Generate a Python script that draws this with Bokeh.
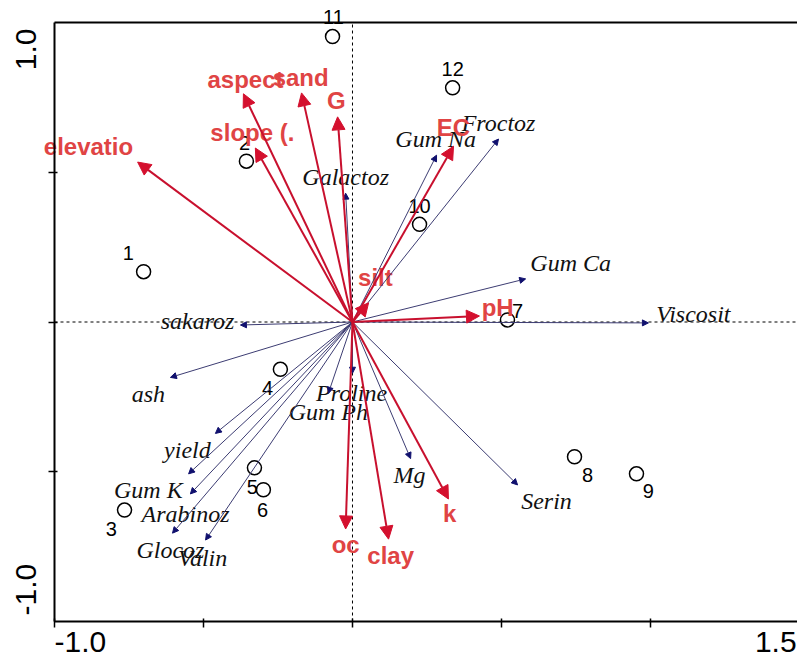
import math
from bokeh.plotting import figure
from bokeh.models import ColumnDataSource, Arrow, NormalHead, LinearAxis, FixedTicker
from bokeh.core.properties import value
from bokeh.embed import file_html
from bokeh.resources import INLINE

# ---------------- data ----------------
# environmental variables (red arrows)
env_names = ["elevatio", "aspect", "sand", "G", "slope (.", "EC", "silt", "pH", "oc", "clay", "k"]
env_x = [-0.721, -0.366, -0.171, -0.050, -0.326, 0.339, 0.054, 0.426, -0.023, 0.121, 0.322]
env_y = [0.534, 0.762, 0.765, 0.685, 0.581, 0.587, 0.064, 0.020, -0.691, -0.725, -0.591]
env_lx = [-0.886, -0.359, -0.174, -0.054, -0.336, 0.339, 0.077, 0.487, -0.023, 0.128, 0.326]
env_ly = [0.587, 0.809, 0.815, 0.738, 0.634, 0.651, 0.148, 0.047, -0.742, -0.779, -0.641]

# species / compounds (blue arrows)
sp_names = ["Galactoz", "Gum Na", "Froctoz", "Gum Ca", "Viscosit", "sakaroz", "ash", "yield",
            "Gum K", "Arabinoz", "Glocoz", "Valin", "Proline", "Gum Ph", "Mg", "Serin"]
sp_x = [-0.023, 0.282, 0.490, 0.581, 0.993, -0.376, -0.611, -0.460,
        -0.550, -0.544, -0.604, -0.493, 0.000, -0.081, 0.195, 0.554]
sp_y = [0.430, 0.557, 0.611, 0.144, -0.003, -0.010, -0.185, -0.372,
        -0.507, -0.574, -0.705, -0.728, -0.171, -0.238, -0.456, -0.544]
sp_lx = [-0.023, 0.279, 0.490, 0.732, 1.144, -0.520, -0.685, -0.554,
         -0.685, -0.560, -0.611, -0.503, -0.003, -0.081, 0.191, 0.651]
sp_ly = [0.483, 0.611, 0.664, 0.198, 0.027, 0.003, -0.242, -0.426,
         -0.560, -0.641, -0.762, -0.789, -0.238, -0.299, -0.510, -0.597]

# samples
smp_names = ["1", "2", "3", "4", "5", "6", "7", "8", "9", "10", "11", "12"]
smp_x = [-0.701, -0.356, -0.765, -0.242, -0.329, -0.299, 0.520, 0.745, 0.953, 0.225, -0.067, 0.336]
smp_y = [0.168, 0.537, -0.628, -0.158, -0.487, -0.560, 0.007, -0.450, -0.507, 0.326, 0.953, 0.782]
smp_lx = [-0.752, -0.362, -0.809, -0.285, -0.336, -0.302, 0.554, 0.789, 0.993, 0.225, -0.064, 0.336]
smp_ly = [0.232, 0.597, -0.691, -0.221, -0.550, -0.628, 0.037, -0.510, -0.564, 0.386, 1.017, 0.846]

x_ticks = [-1.0, -0.5, 0.0, 0.5, 1.0]
y_ticks = [-0.5, 0.0, 0.5]
axis_x_min, axis_x_max = -1.0, 1.5
axis_y_min, axis_y_max = -1.0, 1.0
x_end_labels = ["-1.0", "1.5"]
y_end_labels = ["-1.0", "1.0"]

# ---------------- figure ----------------
W, H = 797, 660
# the frame covers the whole canvas so that labels may spill past the axis box
X0, X1 = -1.1812, 1.4933
Y0, Y1 = -1.1302, 1.0735
p = figure(width=W, height=H, x_range=(X0, X1), y_range=(Y0, Y1),
           output_backend="svg", toolbar_location=None,
           min_border_left=0, min_border_right=0, min_border_top=0, min_border_bottom=0,
           x_axis_location=None, y_axis_location=None)
p.grid.visible = False
p.outline_line_color = None
p.background_fill_color = "white"
p.border_fill_color = "white"

def style_axis(ax, ticks):
    ax.ticker = FixedTicker(ticks=ticks)
    ax.axis_line_color = "black"
    ax.axis_line_width = 2
    ax.major_tick_line_color = "black"
    ax.major_tick_line_width = 1.5
    ax.major_tick_out = 6
    ax.major_tick_in = 3
    ax.minor_tick_line_color = None
    ax.major_label_text_color = None
    ax.major_label_standoff = 0

left = LinearAxis(fixed_location=axis_x_min, bounds=(axis_y_min, axis_y_max))
style_axis(left, y_ticks)
p.add_layout(left, "left")
below = LinearAxis(fixed_location=axis_y_min, bounds=(axis_x_min, X1))
style_axis(below, x_ticks)
p.add_layout(below, "below")
above = LinearAxis(fixed_location=axis_y_max, bounds=(axis_x_min, X1))
style_axis(above, [])
above.major_tick_line_color = None
p.add_layout(above, "above")

# dashed zero lines
p.segment(x0=[0, axis_x_min], y0=[axis_y_min, 0], x1=[0, X1], y1=[axis_y_max, 0],
          line_color="black", line_width=1, line_dash="3 3")

# species arrows (blue)
sp_src = ColumnDataSource(dict(x0=[0.0] * len(sp_x), y0=[0.0] * len(sp_y), x1=sp_x, y1=sp_y))
p.add_layout(Arrow(source=sp_src, x_start="x0", y_start="y0", x_end="x1", y_end="y1",
                   line_color="#3c3c72", line_width=1,
                   end=NormalHead(size=6, fill_color="#10106e", line_color="#10106e", line_width=1)))

# environmental arrows (red)
env_src = ColumnDataSource(dict(x0=[0.0] * len(env_x), y0=[0.0] * len(env_y), x1=env_x, y1=env_y))
p.add_layout(Arrow(source=env_src, x_start="x0", y_start="y0", x_end="x1", y_end="y1",
                   line_color="#c8102e", line_width=2,
                   end=NormalHead(size=13, fill_color="#d4102e", line_color="#d4102e", line_width=1)))

# samples
smp_src = ColumnDataSource(dict(x=smp_x, y=smp_y, lx=smp_lx, ly=smp_ly, t=smp_names))
p.scatter("x", "y", source=smp_src, marker="circle", size=14, fill_color=None,
          line_color="black", line_width=1.5)
p.text("lx", "ly", text="t", source=smp_src, text_align="center", text_baseline="middle",
       text_font=value("Liberation Sans"), text_font_size="20px", text_color="black")

# species labels
sp_lsrc = ColumnDataSource(dict(x=sp_lx, y=sp_ly, t=sp_names))
p.text("x", "y", text="t", source=sp_lsrc, text_align="center", text_baseline="middle",
       text_font=value("Liberation Serif"), text_font_style="italic",
       text_font_size="24px", text_color="#111111")

# env labels
env_lsrc = ColumnDataSource(dict(x=env_lx, y=env_ly, t=env_names))
p.text("x", "y", text="t", source=env_lsrc, text_align="center", text_baseline="middle",
       text_font=value("Liberation Sans"), text_font_style="bold",
       text_font_size="24px", text_color="#e04444")

# axis end labels
font = value("Liberation Sans")
p.text(x=[axis_x_min], y=[-1.0334], text=[x_end_labels[0]], text_align="left",
       text_baseline="top", text_font=font, text_font_size="30px", text_color="black")
p.text(x=[X1 - 0.003], y=[-1.0334], text=[x_end_labels[1]], text_align="right",
       text_baseline="top", text_font=font, text_font_size="30px", text_color="black")
p.text(x=[-1.094], y=[-0.98], text=[y_end_labels[0]], angle=math.pi / 2,
       text_align="left", text_baseline="middle", text_font=font,
       text_font_size="30px", text_color="black")
p.text(x=[-1.094], y=[0.98], text=[y_end_labels[1]], angle=math.pi / 2,
       text_align="right", text_baseline="middle", text_font=font,
       text_font_size="30px", text_color="black")

open("out.html", "w").write(file_html(p, INLINE))
